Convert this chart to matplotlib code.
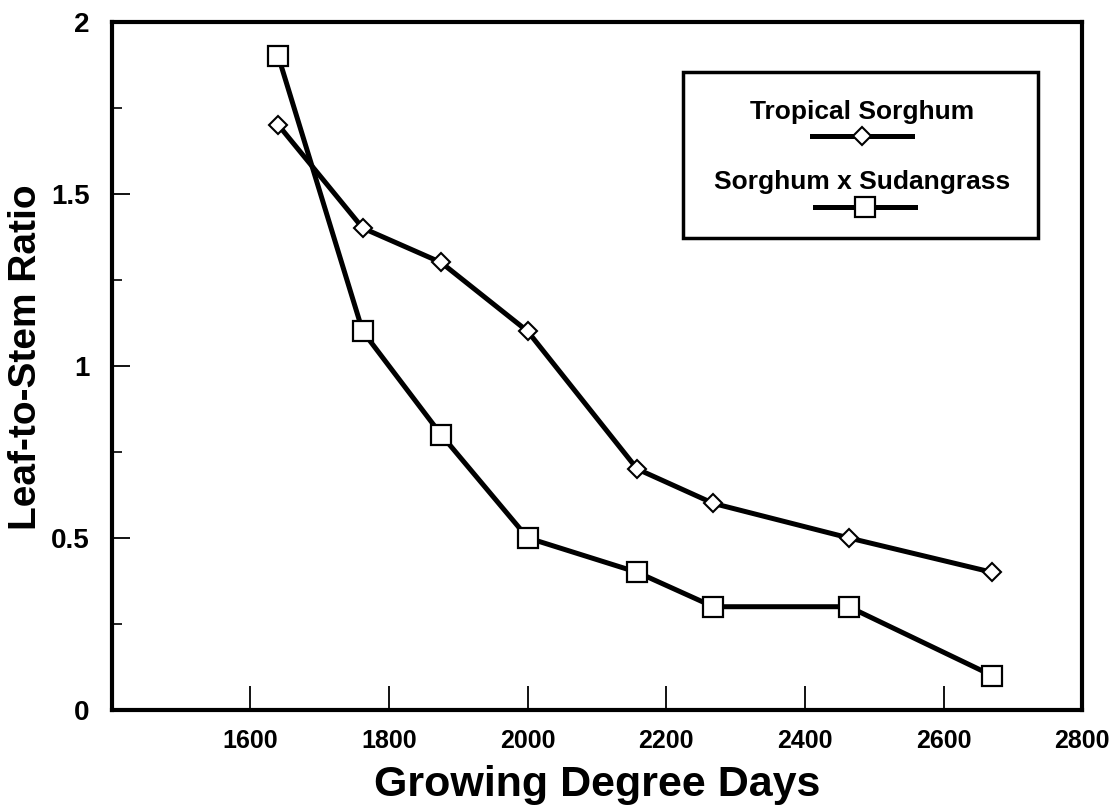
import numpy as np
import matplotlib.pyplot as plt
from matplotlib.patches import Rectangle
from matplotlib.ticker import MultipleLocator

plt.rcParams['font.family'] = ['Liberation Sans', 'DejaVu Sans']
plt.rcParams['font.weight'] = 'bold'

# Datos
gdd = [1640, 1762, 1875, 2000, 2158, 2268, 2463, 2670]
tropical = [1.7, 1.4, 1.3, 1.1, 0.7, 0.6, 0.5, 0.4]
sudangrass = [1.9, 1.1, 0.8, 0.5, 0.4, 0.3, 0.3, 0.1]
x_ticks = [1600, 1800, 2000, 2200, 2400, 2600, 2800]
y_ticks = [0, 0.5, 1, 1.5, 2]
y_labels = ['0', '0.5', '1', '1.5', '2']

fig = plt.figure(figsize=(11.18, 8.09), dpi=100)
ax = fig.add_axes([0.1, 0.1224, 0.868, 0.851])

ax.plot(gdd, tropical, color='black', lw=3.6, marker='D', ms=9,
        mfc='white', mec='black', mew=1.5, zorder=3)
ax.plot(gdd, sudangrass, color='black', lw=3.6, marker='s', ms=15,
        mfc='white', mec='black', mew=1.6, zorder=3)

ax.set_xlim(1400, 2800)
ax.set_ylim(0, 2)
ax.set_xticks(x_ticks)
ax.set_xticklabels([str(t) for t in x_ticks])
ax.set_yticks(y_ticks)
ax.set_yticklabels(y_labels)
ax.yaxis.set_minor_locator(MultipleLocator(0.25))
ax.tick_params(axis='x', which='major', direction='in', length=17, width=1.3,
               labelsize=18, pad=14)
ax.tick_params(axis='y', which='major', direction='in', length=13, width=1.3,
               labelsize=20, pad=16)
ax.tick_params(axis='y', which='minor', direction='in', length=7, width=1.2)
ax.tick_params(top=False, right=False)
for s in ax.spines.values():
    s.set_linewidth(3)

ax.set_xlabel('Growing Degree Days', fontsize=31, fontweight='bold', labelpad=8)
ax.set_ylabel('Leaf-to-Stem Ratio', fontsize=28, fontweight='bold')
ax.yaxis.set_label_coords(-0.070, 0.513)

# Leyenda con el texto encima de la muestra de linea
ax.add_patch(Rectangle((0.589, 0.686), 0.365, 0.241, transform=ax.transAxes,
                       fill=False, lw=2.5, ec='black', zorder=4))
ax.text(0.773, 0.869, 'Tropical Sorghum', transform=ax.transAxes, ha='center',
        va='center', fontsize=19, fontweight='bold')
ax.plot([0.722, 0.825], [0.833, 0.833], transform=ax.transAxes, color='black',
        lw=3.6, zorder=4)
ax.plot([0.773], [0.833], transform=ax.transAxes, marker='D', ms=9, mfc='white',
        mec='black', mew=1.5, zorder=5)
ax.text(0.773, 0.767, 'Sorghum x Sudangrass', transform=ax.transAxes, ha='center',
        va='center', fontsize=19, fontweight='bold')
ax.plot([0.725, 0.828], [0.730, 0.730], transform=ax.transAxes, color='black',
        lw=3.6, zorder=4)
ax.plot([0.776], [0.730], transform=ax.transAxes, marker='s', ms=15, mfc='white',
        mec='black', mew=1.6, zorder=5)

fig.savefig('out.png', dpi=100)
